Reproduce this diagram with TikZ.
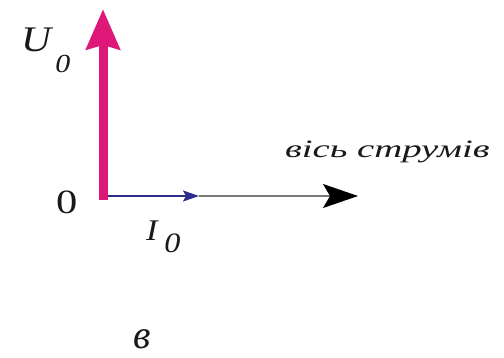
\documentclass[tikz,border=0pt]{standalone}
\usepackage{fontspec}
\setmainfont{Liberation Serif}
\usetikzlibrary{arrows.meta}
\definecolor{vpink}{RGB}{222,24,120}
\definecolor{vblue}{RGB}{45,45,140}
\definecolor{vgray}{RGB}{120,120,120}
\tikzset{
  lbl/.style={inner sep=0pt, outer sep=0pt, text=black!90},
}
\begin{document}
\begin{tikzpicture}[x=1pt,y=-1pt]
\useasboundingbox[fill=white] (0,0) rectangle (504,357);
\coordinate (O) at (103,196);
\coordinate (Obot) at (103,200);
\coordinate (Utip) at (103,9);
\coordinate (Itip) at (199,196);
\coordinate (Atip) at (358,196);
% axis of currents
\draw[vgray, line width=1.6pt, -{Stealth[color=black, length=35pt, width=24pt, inset=7pt]}] (Itip) -- (Atip);
% current vector
\draw[vblue, line width=1.6pt, -{Stealth[length=16pt, width=11pt, inset=3pt]}] (O) -- (Itip);
% voltage vector
\draw[vpink, line width=9pt, -{Stealth[length=40pt, width=33pt, inset=4pt]}] (Obot) -- (Utip);
% labels
\node[lbl, anchor=base west, xscale=1.15] (U) at (21,51) {\fontsize{36}{36}\selectfont\itshape U\kern4pt\raisebox{-21pt}{\fontsize{26}{26}\selectfont 0}};
\node[lbl, anchor=base west, xscale=1.25] (zero) at (56,213) {\fontsize{34}{34}\selectfont 0};
\node[lbl, anchor=base west, xscale=1.15] (I) at (146,240) {\fontsize{30}{30}\selectfont\itshape I\kern6pt\raisebox{-12pt}{\fontsize{28}{28}\selectfont 0}};
\node[lbl, anchor=base west, xscale=1.55] (axis) at (285,157) {\fontsize{25}{25}\selectfont\itshape вісь струмів};
\node[lbl, anchor=base west] (v) at (133,348) {\fontsize{40}{40}\selectfont\itshape в};
\end{tikzpicture}
\end{document}
